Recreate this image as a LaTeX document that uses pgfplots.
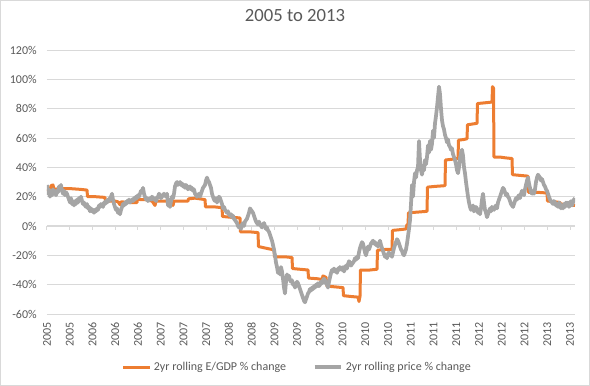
\documentclass[border=0pt]{standalone}
\usepackage{fontspec}
\setmainfont{Carlito}
\usepackage{pgfplots}
\pgfplotsset{compat=1.18}
\definecolor{xlorange}{RGB}{237,125,49}
\definecolor{xlgray}{RGB}{165,165,165}
\definecolor{xltext}{RGB}{89,89,89}
\definecolor{xlgrid}{RGB}{217,217,217}

\pgfplotstableread{
x y
47 25
50 24
51 27.5
53 28
54 25
60 25.5
70 25.5
80 25
87 24.5
87.5 20
95 20
105 19.5
105.5 17
115 17
118 16.5
120 14.5
121 16.5
130 16
137 16
137.5 18.5
140 18
145 18
152 17
155 14
156 17
165 17
172 16.5
173 14
174 17
188 17
188.5 18.5
195 19
200 18.5
205 18
205.5 13
215 13
222 12.5
222.5 6.5
230 6
240 5.5
240.5 -4
250 -4
258 -4.5
258.5 -14
265 -15
272 -16
274 -16.5
274.5 -21
285 -21
292 -21.5
292.5 -29
300 -29.5
308 -30
308.5 -35.5
318 -36
322 -36.5
323 -34
326 -35
327 -41
335 -41.5
343 -42
343.5 -47.5
350 -48
358 -48.5
359 -51.5
360 -48
360.5 -30
370 -30
377 -29.5
377.5 -16.5
385 -16
392 -16
392.5 -3
400 -2.5
406 -2
407 1
408 1
408.5 9
418 9.5
427 10
427.5 26.5
435 27
445 27.5
445.5 45
452 45.5
458 46
458.5 58.5
464 59
467 59.5
467.5 69
472 69.5
477 70
477.5 83.5
485 84
492 84.5
492.5 95
493.5 94
494 47
500 47
505 46.5
512 46
512.5 35
520 34.5
528 34
528.5 23
537 23
547 22.5
547.5 17
555 16.5
560 16
560.5 15
568 14.5
575 14
}\egdp

\pgfplotstableread{
x y
47 28
48 22
49 25
50 20
51 23
52 21
53 25
54 22
55 24
56 21
57 24
58 23
59 27
60 25
61 28
62 24
63 22
64 24
65 21
66 23
67 22
68 20
69 18
70 16
71 19
72 15
73 17
74 14
75 17
76 15
77 18
78 16
79 19
80 18
81 20
82 17
83 15
84 16
85 14
86 13
87 15
88 12
89 13
90 10
91 12
92 10
93 11
94 9
95 11
96 10
97 12
98 11
99 14
100 13
101 15
102 14
103 13
104 16
105 15
106 17
107 16
108 18
109 17
110 19
111 20
112 22
113 18
114 15
115 13
116 11
117 12
118 9
119 10
120 8
121 11
122 13
123 15
124 14
125 16
126 15
127 17
128 16
129 18
130 16
131 17
132 18
133 17
134 19
135 18
136 20
137 19
138 21
139 20
140 22
141 24
142 23
143 26
144 22
145 20
146 18
147 19
148 17
149 18
150 19
151 18
152 20
153 19
154 18
155 19
156 17
157 19
158 20
159 22
160 21
161 19
162 20
163 21
164 22
165 21
166 20
167 22
168 14
169 16
170 13
171 17
172 20
173 19
174 22
175 27
176 29
177 30
178 28
179 29
180 30
181 28
182 29
183 27
184 28
185 26
186 28
187 27
188 25
189 26
190 27
191 25
192 26
193 24
194 25
195 22
196 21
197 20
198 21
199 22
200 20
201 22
202 24
203 26
204 27
205 28
206 31
207 33
208 31
209 30
210 28
211 26
212 22
213 20
214 18
215 17
216 19
217 16
218 18
219 20
220 19
221 17
222 15
223 12
224 13
225 11
226 10
227 9
228 10
229 8
230 7
231 8
232 6
233 7
234 5
235 4
236 3
237 2
238 0
239 -1
240 0
241 -2
242 1
243 2
244 0
245 3
246 4
247 5
248 7
249 9
250 12
251 11
252 10
253 9
254 7
255 5
256 3
257 2
258 1
259 3
260 1
261 0
262 -1
263 1
264 2
265 0
266 -2
267 -1
268 -3
269 -4
270 -6
271 -8
272 -10
273 -13
274 -16
275 -20
276 -25
277 -28
278 -32
279 -30
280 -33
281 -28
282 -31
283 -36
284 -42
285 -46
286 -38
287 -33
288 -35
289 -34
290 -37
291 -38
292 -37
293 -40
294 -39
295 -42
296 -40
297 -38
298 -39
299 -41
300 -43
301 -45
302 -47
303 -49
304 -51
305 -52
306 -50
307 -48
308 -46
309 -45
310 -43
311 -44
312 -42
313 -43
314 -41
315 -42
316 -40
317 -41
318 -39
319 -41
320 -40
321 -38
322 -39
323 -37
324 -36
325 -37
326 -39
327 -40
328 -42
329 -38
330 -35
331 -32
332 -30
333 -31
334 -29
335 -31
336 -30
337 -32
338 -29
339 -30
340 -28
341 -29
342 -30
343 -28
344 -31
345 -29
346 -27
347 -29
348 -26
349 -24
350 -25
351 -27
352 -26
353 -25
354 -24
355 -22
356 -23
357 -21
358 -22
359 -18
360 -15
361 -13
362 -11
363 -12
364 -15
365 -18
366 -20
367 -17
368 -14
369 -16
370 -14
371 -12
372 -11
373 -10
374 -12
375 -11
376 -13
377 -12
378 -14
379 -12
380 -10
381 -13
382 -15
383 -17
384 -19
385 -21
386 -20
387 -22
388 -19
389 -18
390 -20
391 -19
392 -21
393 -18
394 -15
395 -13
396 -11
397 -9
398 -10
399 -12
400 -14
401 -16
402 -17
403 -19
404 -20
405 -18
406 -16
407 -12
408 -7
409 -2
410 4
411 15
412 28
413 20
414 30
415 36
416 33
417 38
418 40
419 58
420 45
421 38
422 35
423 40
424 38
425 45
426 42
427 47
428 55
429 50
430 58
431 52
432 56
433 65
434 60
435 70
436 75
437 81
438 88
439 95
440 90
441 80
442 72
443 68
444 66
445 62
446 60
447 57
448 59
449 55
450 54
451 52
452 53
453 49
454 47
455 45
456 42
457 38
458 36
459 40
460 46
461 50
462 52
463 48
464 40
465 36
466 30
467 25
468 20
469 16
470 13
471 11
472 12
473 14
474 10
475 11
476 13
477 12
478 9
479 11
480 8
481 12
482 18
483 22
484 16
485 11
486 9
487 6
488 8
489 10
490 12
491 10
492 13
493 12
494 11
495 13
496 14
497 12
498 16
499 18
500 20
501 22
502 24
503 26
504 25
505 23
506 21
507 22
508 20
509 19
510 17
511 15
512 14
513 13
514 15
515 17
516 19
517 18
518 20
519 21
520 19
521 22
522 24
523 23
524 21
525 25
526 28
527 31
528 33
529 29
530 26
531 23
532 22
533 24
534 22
535 25
536 30
537 33
538 35
539 34
540 33
541 31
542 32
543 30
544 28
545 27
546 25
547 24
548 22
549 20
550 18
551 17
552 16
553 15
554 17
555 16
556 14
557 15
558 13
559 16
560 15
561 12
562 14
563 12
564 15
565 13
566 16
567 14
568 16
569 13
570 15
571 17
572 14
573 16
574 18
575 19
}\price

\begin{document}
\begin{tikzpicture}
\pgfplotsset{
  common/.style={width=396pt,height=198pt,scale only axis,
    xmin=47,xmax=575,ymin=-60,ymax=120,
    xtick={47,69.74,92.48,115.22,137.96,160.70,183.44,206.18,228.92,251.66,274.40,297.14,319.88,342.62,365.36,388.10,410.84,433.58,456.32,479.06,501.80,524.54,547.28,570.02}},
}
% zero axis line with tick marks
\begin{axis}[common,
  axis x line=middle, axis y line=none,
  xticklabels={}, ytick=\empty,
  tick align=outside, major tick length=3pt,
  x axis line style={-},
  axis line style={xlgrid, line width=0.75pt},
  tick style={xlgrid, line width=0.75pt},
]
\end{axis}
% main axis
\begin{axis}[common, name=main,
  axis line style={draw=none},
  major tick length=0pt,
  ymajorgrids, grid style={xlgrid, line width=0.75pt},
  ytick={-60,-40,-20,0,20,40,60,80,100,120},
  yticklabel={\pgfmathprintnumber{\tick}\%},
  /pgf/number format/assume math mode=true,
  xticklabels={2005,2005,2006,2006,2006,2007,2007,2007,2008,2008,2009,2009,2009,2010,2010,2010,2011,2011,2011,2012,2012,2012,2013,2013},
  xticklabel style={yshift=-6pt, rotate=90, anchor=east, inner sep=0pt},
  yticklabel style={anchor=east, inner sep=0pt, xshift=-7.5pt},
  tick label style={font=\fontsize{9}{11}\selectfont, text=xltext},
  title={2005 to 2013},
  title style={font=\fontsize{14}{17}\selectfont, text=xltext,
    at={(axis description cs:0.4697,1)}, anchor=center, yshift=19.5pt},
  legend style={at={(axis description cs:0.4744,-0.2008)}, anchor=center,
    draw=none, fill=none, legend columns=2,
    font=\fontsize{9}{11}\selectfont, text=xltext,
    /tikz/every even column/.append style={column sep=18pt}},
  legend cell align=left,
  legend image code/.code={\draw[#1] (0pt,0pt) -- (20pt,0pt);},
]
\addplot[xlorange, line width=2.25pt, line join=round] table[x=x,y=y] {\egdp};
\addlegendentry{2yr rolling E/GDP \% change}
\addplot[xlgray, line width=2.8pt, line join=round] table[x=x,y=y] {\price};
\addlegendentry{2yr rolling price \% change}
\end{axis}
\draw[xlgrid, line width=0.75pt]
  ([xshift=-34.875pt,yshift=-53.625pt]main.south west) rectangle
  ([xshift=10.875pt,yshift=37.125pt]main.north east);
\end{tikzpicture}
\end{document}
